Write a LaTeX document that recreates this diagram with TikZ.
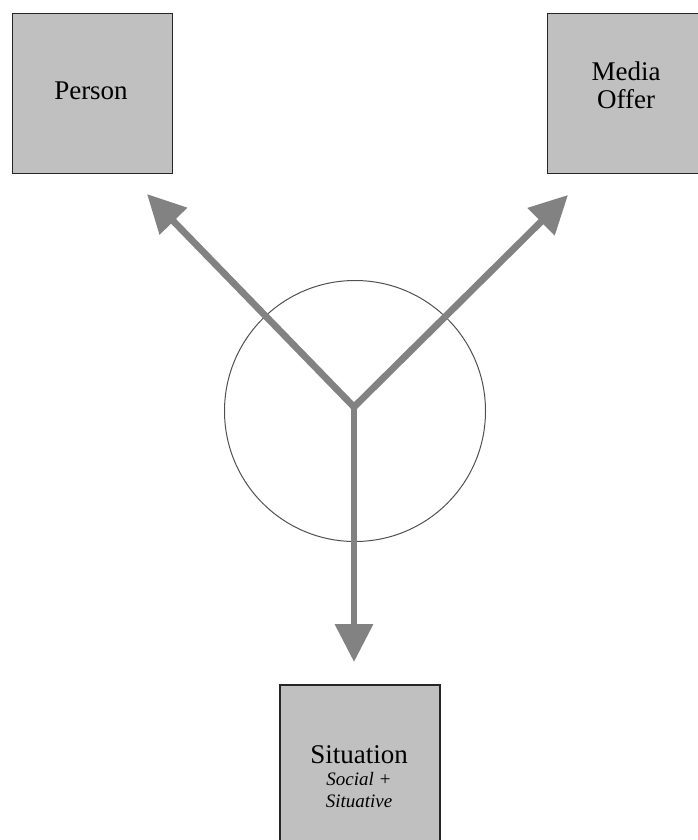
\documentclass[tikz,border=0pt]{standalone}
\usepackage{fontspec}
\setmainfont{Liberation Serif}
\usetikzlibrary{arrows.meta}
\definecolor{boxfill}{HTML}{C0C0C0}
\definecolor{arrowgray}{HTML}{828282}
\definecolor{ringgray}{HTML}{505050}
\tikzset{
  factor/.style={draw=black!85, line width=1.4pt, fill=boxfill,
    minimum width=160pt, minimum height=160pt, inner sep=0pt},
  label/.style={anchor=base, inner sep=0pt, font=\fontsize{27}{30}\selectfont},
  sublabel/.style={anchor=base, inner sep=0pt, font=\fontsize{19}{22}\selectfont\itshape},
  flow/.style={draw=arrowgray, line width=6.8pt, line join=miter,
    -{Triangle[width=37pt,length=38pt]}},
  ring/.style={draw=ringgray, line width=1pt}
}
\begin{document}
\begin{tikzpicture}[x=1pt,y=-1pt]
  \useasboundingbox (0,0) rectangle (697,840);
  % the three factors
  \node[factor] (person) at (92.5,93.5) {};
  \node[label] (persontext) at (91,100) {Person};
  \node[factor] (media) at (627.5,93.5) {};
  \node[label] (mediatext1) at (626,81) {Media};
  \node[label] (mediatext2) at (626,109) {Offer};
  \node[factor] (situation) at (360,765) {};
  \node[label] (sittext1) at (359,763) {Situation};
  \node[sublabel] (sittext2) at (359,785) {Social +};
  \node[sublabel] (sittext3) at (359,807) {Situative};
  % central circle
  \node[ring, circle, minimum size=261pt, inner sep=0pt] (core) at (355,411) {};
  % junction and arrow tips
  \coordinate (hub) at (354,407);
  \coordinate (tipP) at (147,194);
  \coordinate (tipM) at (568,195);
  \coordinate (tipS) at (354,662);
  \draw[flow, {Triangle[width=37pt,length=38pt]}-{Triangle[width=37pt,length=38pt]}] (tipP) -- (hub) -- (tipM);
  \draw[flow] (hub) -- (tipS);
\end{tikzpicture}
\end{document}
